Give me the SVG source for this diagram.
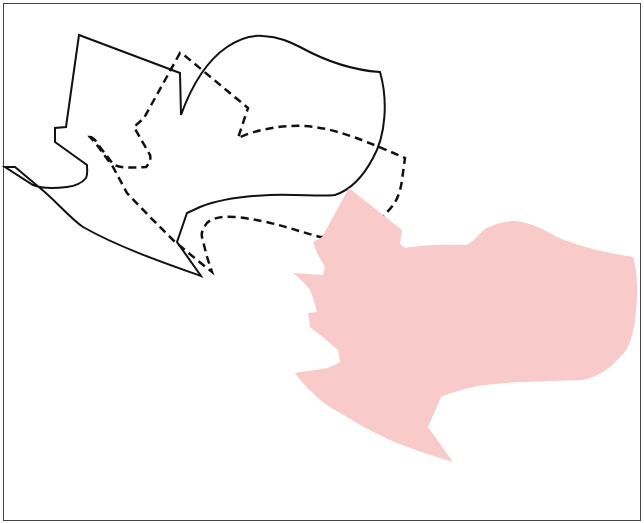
<svg xmlns="http://www.w3.org/2000/svg" width="644" height="523" viewBox="0 0 644 523">
<style>
.solid{fill:none;stroke:#111;stroke-width:2;stroke-linejoin:miter}
.dash{fill:none;stroke:#111;stroke-width:2.5;stroke-dasharray:8 5}
.pink{fill:#f8caca;stroke:none}
</style>
<rect x="0" y="0" width="644" height="523" fill="#fff"/>
<rect x="3.5" y="3.5" width="637" height="517" fill="none" stroke="#444" stroke-width="1"/>
<g id="solid-shape">
<path class="solid" d="M79,35 L172,70 L180,73 L181,115 C190,90 205,62 227,47 C240,38 252,35 263,36 C280,37 290,42 300,47 C320,58 350,70 380,72 C388,100 386,135 373,158 C363,177 350,190 335,195 C320,197 300,194 270,195 C245,196 220,199 200,207 L187,213 L177,242 L201,276 C170,265 120,248 83,227 C70,218 55,200 40,188 L15,167 L5,167 L33,185 C40,188 50,189 67,187 C75,186 82,183 86,178 C88,174 87,170 87,165 L55,142 L55,128 L66,127 Z"/>
</g>
<g id="dashed-shape">
<path class="dash" d="M90,137 C93,137 96,141 100,147 L113,164 C118,168 130,168 146,167 C150,163 151,158 150,155 L134,127 L144,118 L180,53 L184,55 L248,108 L238,138 C255,130 280,125 305,126 C330,128 350,134 405,158 L402,180 C400,195 395,205 386,213 C375,228 345,238 320,237 C300,232 270,220 235,217 C222,216 212,218 207,223 C203,228 201,233 202,237 L207,257 L212,272 L197,260 L173,240 L150,217 L127,193 L113,167 L97,145 Z"/>
</g>
<g id="pink-shape">
<path class="pink" d="M349,188 L402,230 L400,244 L405,248 C420,245 445,244 467,245 C475,240 480,233 485,229 C495,224 505,221 515,221 C530,222 545,230 557,237 C570,243 600,252 633,257 C638,270 638,300 635,320 C632,340 628,350 620,357 C610,368 600,376 583,380 C560,381 540,381 523,382 C500,383 480,385 473,387 C460,390 450,393 441,397 L428,427 L453,462 C430,455 415,450 397,443 C380,436 360,425 347,417 C335,410 320,402 313,393 C305,386 300,380 295,373 C305,371 318,370 327,368 C333,366 337,364 340,362 L338,350 L324,338 L310,327 L308,313 L317,312 C315,305 313,297 310,290 C305,283 298,277 293,273 L323,275 L325,267 L317,253 L313,242 L322,237 Z"/>
</g>
</svg>
